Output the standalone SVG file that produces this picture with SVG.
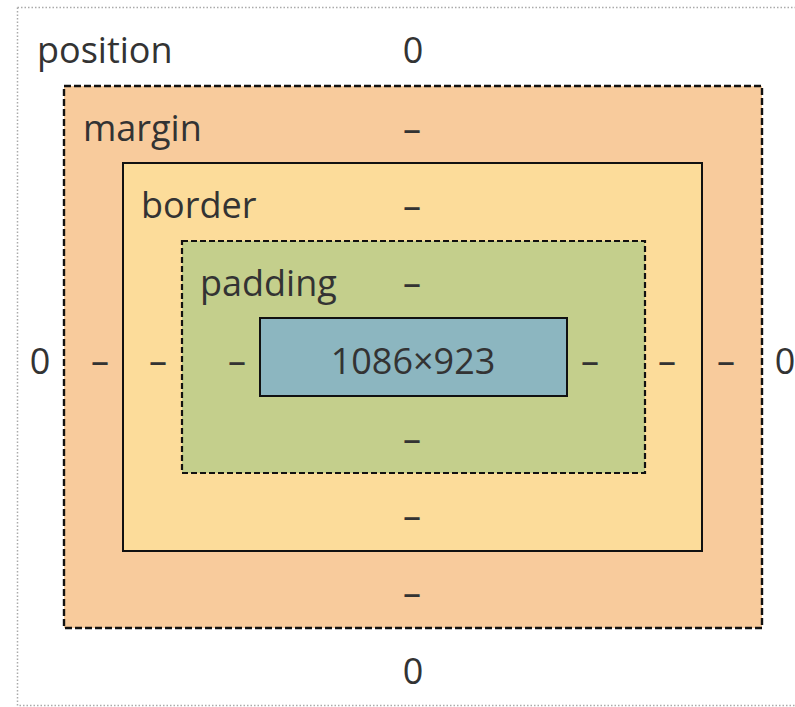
<svg xmlns="http://www.w3.org/2000/svg" width="795" height="707" viewBox="0 0 795 707">
<style>
text{font-family:"Open Sans","Noto Sans","DejaVu Sans",sans-serif;font-size:36px;fill:#333}
.c{text-anchor:middle}
.dash{fill:#f8cb9c;stroke:#111;stroke-width:2.4;stroke-dasharray:7 3}
</style>
<rect width="795" height="707" fill="#fff"/>
<g id="position">
<path d="M17.5 7.5H800M17.5 7.5V705.5H800" fill="none" stroke="#aaa" stroke-width="1.5" stroke-dasharray="1.5 2"/>
<text x="37" y="63">position</text>
<text class="c" x="413" y="63">0</text>
<text class="c" x="40" y="374">0</text>
<text class="c" x="785" y="374">0</text>
<text class="c" x="413" y="684">0</text>
</g>
<g id="margin">
<rect x="64" y="86" width="698" height="542" class="dash"/>
<text x="83" y="141">margin</text>
<text class="c" x="412" y="142">–</text>
<text class="c" x="412" y="606">–</text>
<text class="c" x="100" y="374">–</text>
<text class="c" x="726" y="374">–</text>
</g>
<g id="border">
<rect x="123" y="163" width="579" height="388" fill="#fcdc9a" stroke="#111" stroke-width="2"/>
<text x="141" y="218">border</text>
<text class="c" x="412" y="219">–</text>
<text class="c" x="412" y="529">–</text>
<text class="c" x="158" y="374">–</text>
<text class="c" x="667" y="374">–</text>
</g>
<g id="padding">
<rect x="182" y="241" width="463" height="232" fill="#c4cf8c" stroke="#111" stroke-width="2.2" stroke-dasharray="6 3"/>
<text x="200" y="296">padding</text>
<text class="c" x="412" y="296">–</text>
<text class="c" x="412" y="452">–</text>
<text class="c" x="237" y="374">–</text>
<text class="c" x="590" y="374">–</text>
</g>
<g id="content">
<rect x="260" y="318" width="307" height="78" fill="#8cb6c0" stroke="#111" stroke-width="2"/>
<text class="c" x="413" y="374">1086×923</text>
</g>
<g id="connectors"/>
</svg>
